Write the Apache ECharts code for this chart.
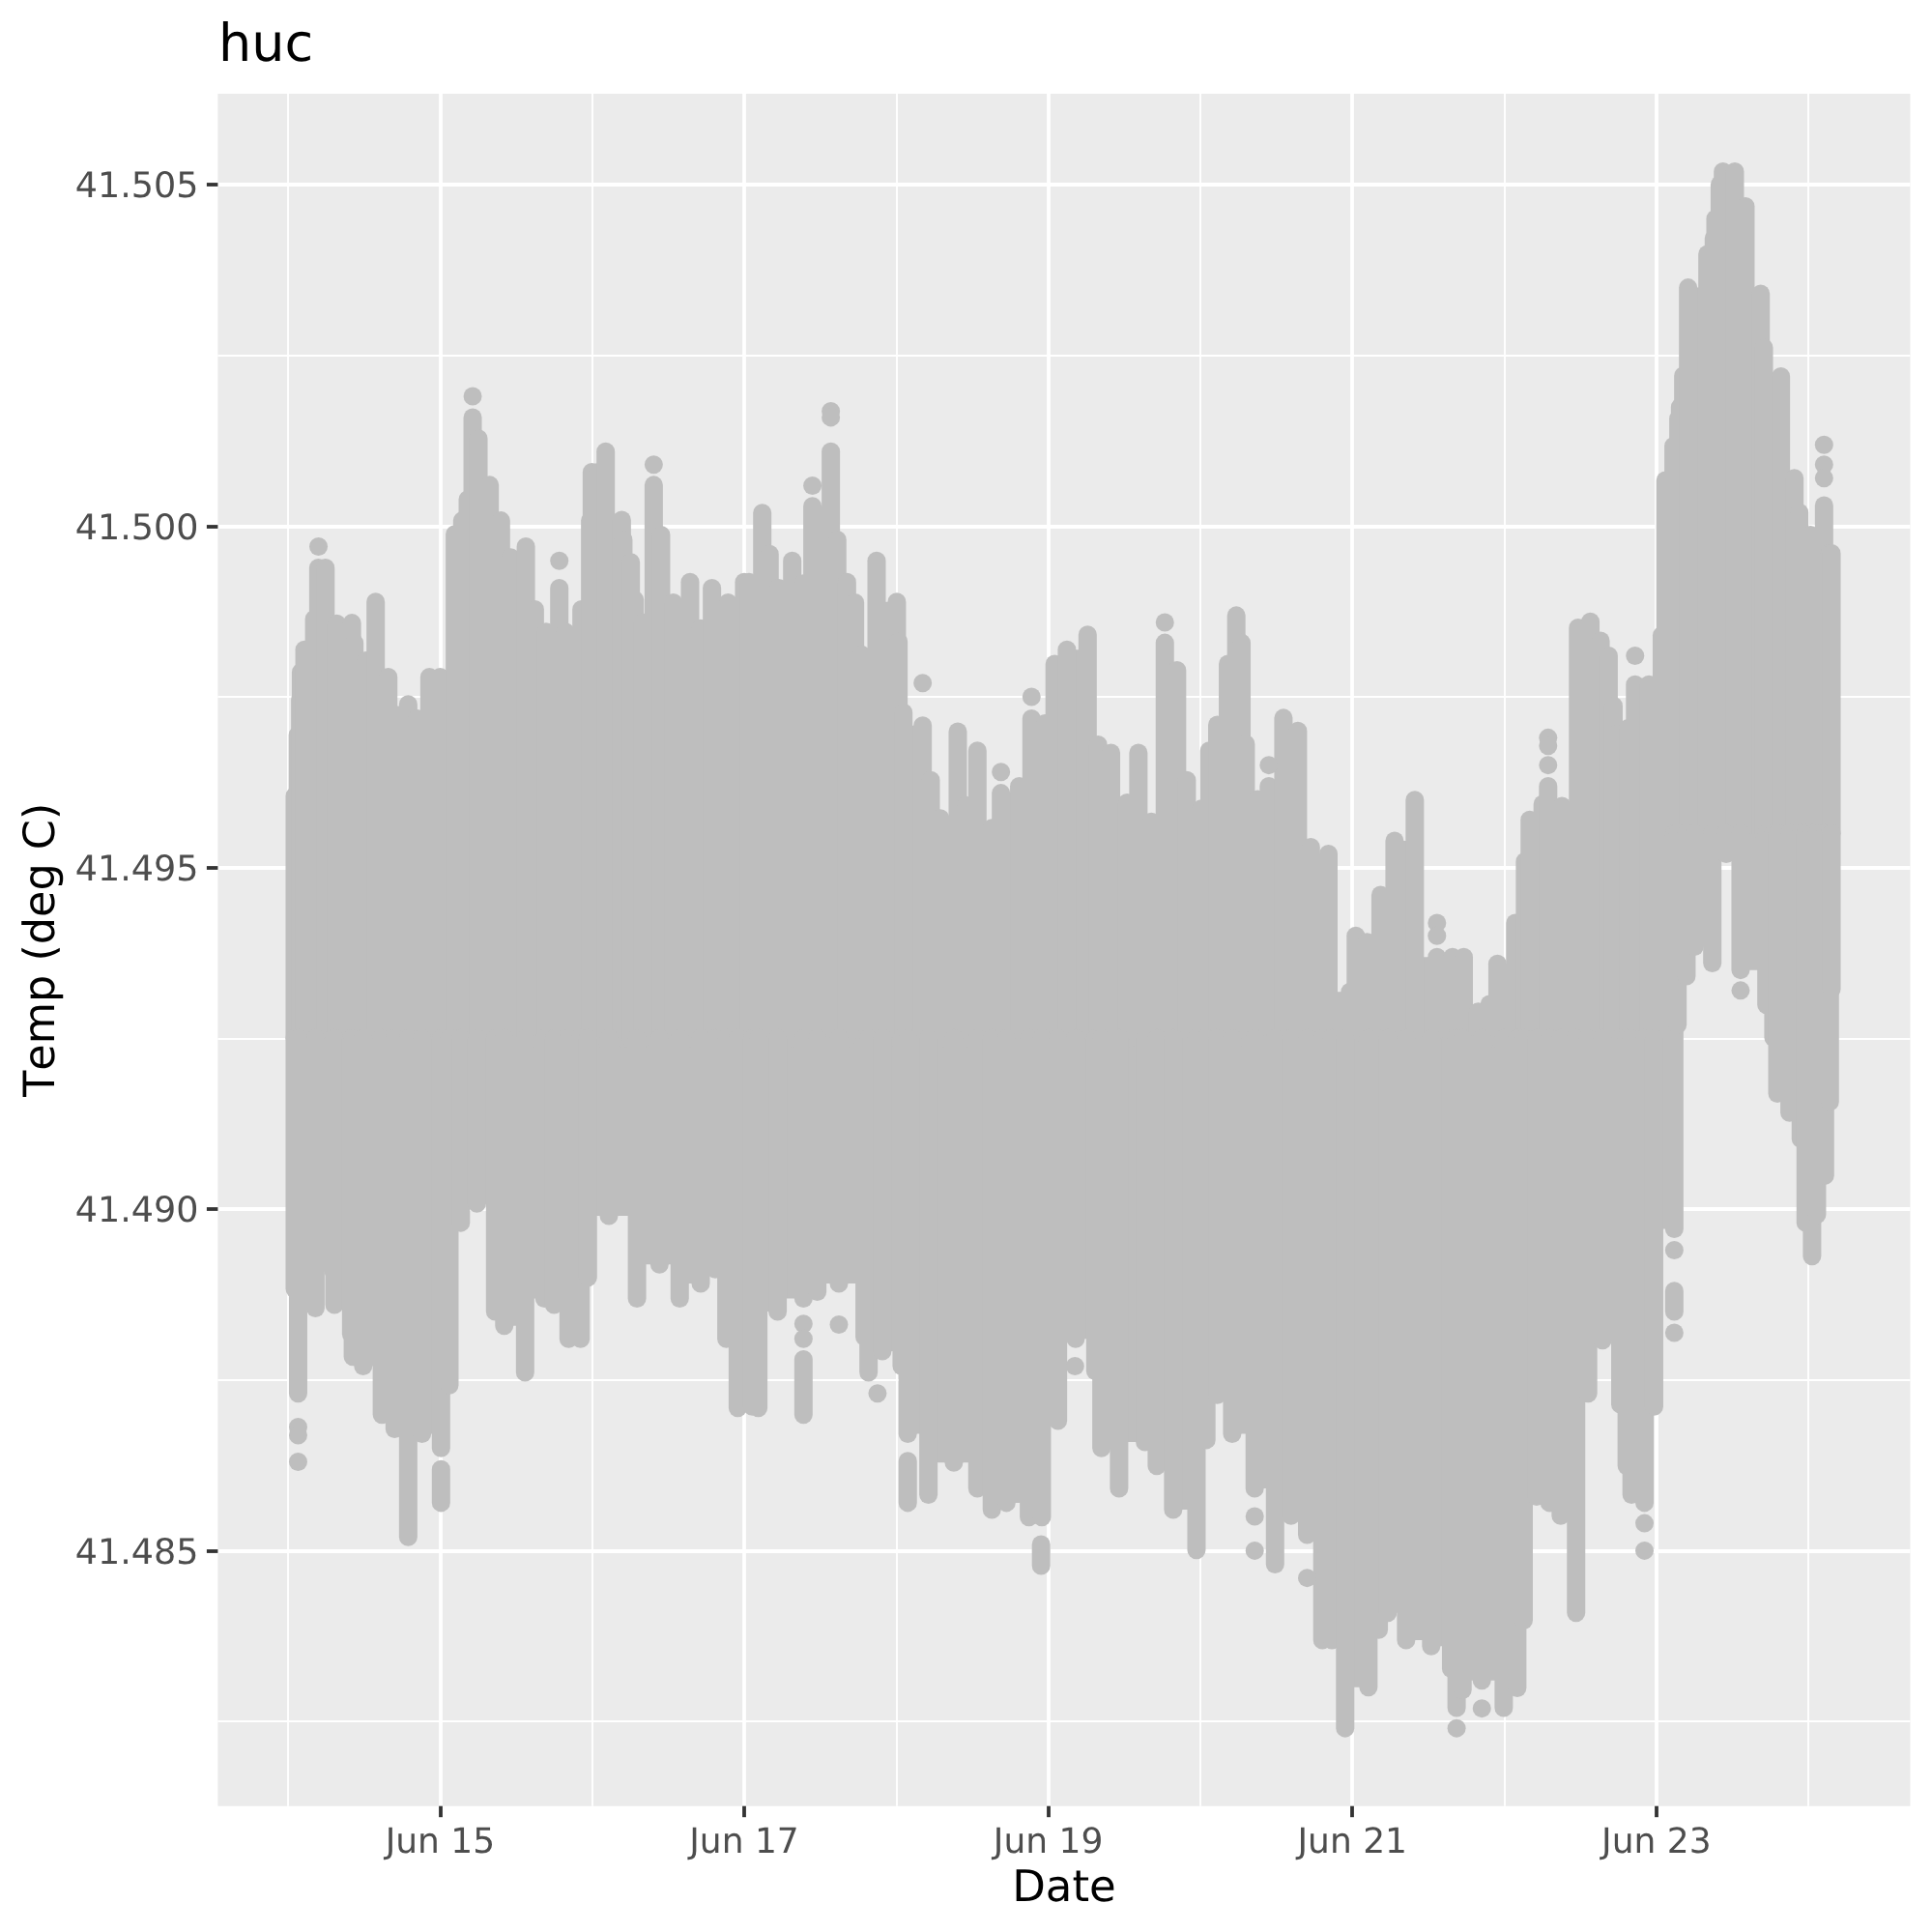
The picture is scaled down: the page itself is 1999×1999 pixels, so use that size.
<!DOCTYPE html>
<html>
<head>
<meta charset="utf-8">
<style>html,body{margin:0;padding:0;background:#fff}#c{width:1999px;height:1999px}</style>
<script src="https://cdn.jsdelivr.net/npm/echarts@6/dist/echarts.min.js"></script>
</head>
<body>
<div id="c"></div>
<script>
// Axis ticks (x is the day of June)
const majorDays = [15, 17, 19, 21, 23];
const minorDays = [14, 16, 18, 20, 22, 24];
const majorTemps = [41.485, 41.49, 41.495, 41.5, 41.505];
const minorTemps = [41.4825, 41.4875, 41.4925, 41.4975, 41.5025];

// Upper edge of the point cloud
const topDays = [14.044,14.064,14.08,14.085,14.108,14.172,14.199,14.246,14.32,14.42,14.436,14.511,14.576,14.659,14.722,14.79,14.85,14.93,15.0,15.097,15.146,15.182,15.214,15.252,15.326,15.4,15.464,15.564,15.623,15.697,15.784,15.824,15.93,15.987,15.998,16.04,16.089,16.195,16.205,16.254,16.28,16.333,16.405,16.453,16.534,16.644,16.714,16.788,16.894,17.0,17.032,17.119,17.167,17.227,17.316,17.39,17.449,17.57,17.612,17.676,17.729,17.771,17.871,18.004,18.015,18.047,18.174,18.227,18.29,18.405,18.46,18.534,18.63,18.689,18.809,18.89,18.979,19.042,19.123,19.259,19.328,19.413,19.519,19.593,19.678,19.767,19.847,19.911,20.006,20.059,20.112,20.182,20.237,20.271,20.299,20.377,20.451,20.547,20.642,20.727,20.843,20.985,21.023,21.097,21.186,21.278,21.411,21.557,21.659,21.733,21.828,21.903,21.955,22.072,22.136,22.167,22.252,22.288,22.379,22.485,22.566,22.633,22.686,22.718,22.739,22.814,22.86,22.951,23.036,23.06,23.113,23.145,23.156,23.177,23.209,23.336,23.378,23.389,23.417,23.438,23.516,23.586,23.686,23.707,23.819,23.908,23.94,24.014,24.103,24.14,24.152];
const topTemps = [41.49605,41.49694,41.49746,41.49786,41.49819,41.49864,41.49939,41.49939,41.49857,41.49858,41.49829,41.49803,41.49889,41.49779,41.49723,41.49739,41.49718,41.49779,41.49779,41.49988,41.50008,41.50039,41.50159,41.50128,41.5006,41.50008,41.49954,41.4997,41.49878,41.49845,41.49909,41.49845,41.49878,41.50008,41.50079,41.50079,41.50109,41.50009,41.4998,41.49947,41.49892,41.49859,41.5006,41.49987,41.49888,41.49918,41.4985,41.49909,41.49888,41.49918,41.49918,41.50019,41.49959,41.49909,41.49949,41.49916,41.50029,41.50109,41.4998,41.49918,41.49888,41.49812,41.49949,41.49889,41.49831,41.49727,41.49708,41.49628,41.49572,41.49699,41.49591,41.49671,41.49558,41.49609,41.49619,41.49718,41.49711,41.49798,41.49819,41.49841,41.4968,41.49668,41.49595,41.49668,41.49567,41.49829,41.49789,41.49628,41.49586,41.49671,41.49709,41.49798,41.49869,41.49829,41.49681,41.496,41.49619,41.49719,41.497,41.4953,41.4952,41.49318,41.494,41.49391,41.4946,41.49539,41.49599,41.49369,41.49369,41.49369,41.49289,41.493,41.49359,41.49419,41.49509,41.4957,41.49593,41.49619,41.4959,41.49851,41.4986,41.49832,41.4981,41.49737,41.49695,41.49704,41.49768,41.49768,41.4984,41.50067,41.50117,41.50157,41.50174,41.5022,41.50349,41.50398,41.50421,41.5045,41.505,41.50519,41.50519,41.50468,41.5034,41.50261,41.50219,41.5007,41.5002,41.49987,41.5003,41.4996,41.4996];

// Lower edge of the point cloud
const lowDays = [14.044,14.066,14.18,14.299,14.305,14.415,14.426,14.494,14.617,14.701,14.79,14.881,15.006,15.061,15.136,15.242,15.362,15.422,15.559,15.686,15.75,15.845,15.924,15.972,16.11,16.295,16.443,16.576,16.714,16.81,16.883,16.958,17.053,17.093,17.22,17.39,17.481,17.623,17.792,17.818,17.909,18.036,18.076,18.212,18.379,18.534,18.629,18.725,18.873,18.958,19.064,19.18,19.31,19.35,19.466,19.636,19.714,19.822,19.975,20.04,20.112,20.21,20.358,20.492,20.597,20.703,20.803,20.866,20.953,21.106,21.174,21.233,21.354,21.519,21.65,21.686,21.725,21.852,21.996,22.085,22.127,22.212,22.297,22.371,22.472,22.551,22.646,22.763,22.805,22.837,22.922,22.985,23.118,23.139,23.198,23.251,23.368,23.46,23.554,23.724,23.77,23.796,23.876,23.95,23.982,24.024,24.056,24.109,24.141,24.152];
const lowTemps = [41.48883,41.4873,41.48855,41.48909,41.4886,41.48817,41.48784,41.4877,41.48699,41.48678,41.4852,41.48671,41.4865,41.48742,41.4898,41.49008,41.4885,41.48829,41.48761,41.48869,41.4886,41.4881,41.4881,41.489,41.4899,41.48869,41.48919,41.48869,41.48891,41.48912,41.4881,41.48709,41.48711,41.48709,41.4885,41.48869,41.48879,41.48891,41.48813,41.48761,41.48792,41.4877,41.48671,41.48582,41.48629,41.48591,41.4856,41.4857,41.48549,41.48549,41.4869,41.4881,41.48763,41.4865,41.48591,41.48659,41.48624,41.4856,41.48501,41.48662,41.48728,41.48671,41.48591,41.4848,41.48551,41.48523,41.48369,41.48369,41.4824,41.483,41.48384,41.48409,41.48369,41.4836,41.48327,41.4827,41.48296,41.4831,41.4827,41.48299,41.48398,41.48579,41.4857,41.48551,41.48409,41.4873,41.48808,41.48714,41.48624,41.48582,41.4857,41.48711,41.48971,41.4927,41.49341,41.49384,41.4936,41.4952,41.4935,41.49299,41.49251,41.49169,41.49141,41.49103,41.4898,41.48931,41.48992,41.49049,41.49157,41.49322];

// Single points standing clear of the cloud
const dotDays = [14.2,15.784,15.214,16.405,17.449,17.57,17.57,18.174,18.689,18.89,19.767,20.451,21.557,21.557,22.288,22.288,22.288,22.86,24.103,24.103,24.103,14.066,14.066,14.066,17.623,17.39,17.39,17.877,19.176,20.358,20.358,20.703,21.686,21.852,22.922,22.922,23.118,23.118,23.554];
const dotTemps = [41.4997,41.49949,41.5019,41.5009,41.50059,41.50168,41.50159,41.4977,41.4964,41.4975,41.49859,41.4965,41.49419,41.494,41.4969,41.49678,41.4965,41.4981,41.50119,41.5009,41.5007,41.48681,41.48669,41.4863,41.48831,41.48832,41.4881,41.4873,41.4877,41.4855,41.485,41.4846,41.4824,41.48269,41.4854,41.485,41.4894,41.48819,41.4932];

// Short runs of points separated from the cloud
const runDays = [15.006,17.39,18.076,18.953,23.118];
const runHighs = [41.48619,41.4878,41.48631,41.48509,41.4888];
const runLows = [41.4857,41.48699,41.4857,41.48478,41.4885];

// Temperature inside the cloud where the upper and lower edges meet
const coreBreakDay = 23.05;
const coreBefore = 41.4925;
const coreAfter = 41.4955;

const GREY = '#BEBEBE';
const DOT = 19;
const coreAt = d => d < coreBreakDay ? coreBefore : coreAfter;

const stems = [];
topDays.forEach((d, i) => { if (topTemps[i] > coreAt(d)) stems.push([d, topTemps[i], coreAt(d)]); });
lowDays.forEach((d, i) => { if (lowTemps[i] < coreAt(d)) stems.push([d, coreAt(d), lowTemps[i]]); });
runDays.forEach((d, i) => stems.push([d, runHighs[i], runLows[i]]));

function renderStem(params, api) {
  const a = api.coord([api.value(0), api.value(1)]);
  const b = api.coord([api.value(0), api.value(2)]);
  return {
    type: 'line',
    shape: { x1: a[0], y1: a[1], x2: b[0], y2: b[1] },
    style: { stroke: GREY, lineWidth: DOT, lineCap: 'round', fill: null }
  };
}

function renderBody(params, api) {
  const pts = [];
  for (let i = 0; i < topDays.length - 1; i++) {
    const v = Math.min(topTemps[i], topTemps[i + 1]);
    pts.push(api.coord([topDays[i], v]), api.coord([topDays[i + 1], v]));
  }
  for (let i = lowDays.length - 1; i > 0; i--) {
    const v = Math.max(lowTemps[i], lowTemps[i - 1]);
    pts.push(api.coord([lowDays[i], v]), api.coord([lowDays[i - 1], v]));
  }
  return { type: 'polygon', shape: { points: pts }, style: { fill: GREY } };
}

// Text is drawn without pair kerning, with exact glyph advances
const getCtx = HTMLCanvasElement.prototype.getContext;
HTMLCanvasElement.prototype.getContext = function (kind, opts) {
  const ctx = getCtx.call(this, kind, opts);
  if (kind === '2d' && ctx) { ctx.fontKerning = 'none'; ctx.textRendering = 'geometricPrecision'; }
  return ctx;
};

const FONT = '"DejaVu Sans"';
const xMin = 13.538, xMax = 24.67, yMin = 41.48126, yMax = 41.50633;
const chart = echarts.init(document.getElementById('c'), null, { renderer: 'canvas' });
chart.setOption({
  animation: false,
  backgroundColor: '#FFFFFF',
  title: {
    text: 'huc', left: 221, top: 17,
    textStyle: { fontFamily: FONT, fontSize: 54, fontWeight: 'normal', color: '#000000' }
  },
  grid: {
    left: 225.4, top: 96.9, right: 22.5, bottom: 130.3,
    show: true, backgroundColor: '#EBEBEB', borderWidth: 0,
    containLabel: false, outerBoundsMode: 'none'
  },
  xAxis: [
    {
      type: 'value', min: xMin, max: xMax,
      name: 'Date', nameLocation: 'middle', nameGap: 64,
      nameTextStyle: { fontFamily: FONT, fontSize: 45, color: '#000000' },
      axisLine: { show: false },
      axisTick: { show: true, length: 11.5, lineStyle: { color: '#333333', width: 3.8 }, customValues: majorDays },
      axisLabel: {
        show: true, margin: 21, fontFamily: FONT, fontSize: 36, color: '#4D4D4D',
        customValues: majorDays, formatter: v => 'Jun ' + v
      },
      splitLine: { show: true, lineStyle: { color: '#FFFFFF', width: 3.8 } }
    },
    {
      type: 'value', min: xMin, max: xMax,
      axisLine: { show: false },
      axisTick: { show: false, customValues: minorDays },
      axisLabel: { show: false, customValues: minorDays },
      splitLine: { show: true, lineStyle: { color: '#FFFFFF', width: 1.9 } }
    }
  ],
  yAxis: [
    {
      type: 'value', min: yMin, max: yMax,
      name: 'Temp (deg C)', nameLocation: 'middle', nameGap: 159, nameRotate: 90,
      nameTextStyle: { fontFamily: FONT, fontSize: 44.5, color: '#000000' },
      axisLine: { show: false },
      axisTick: { show: true, length: 11.5, lineStyle: { color: '#333333', width: 3.8 }, customValues: majorTemps },
      axisLabel: {
        show: true, margin: 20, color: '#4D4D4D',
        customValues: majorTemps, formatter: v => '{t|' + v.toFixed(3) + '}',
        rich: { t: { fontFamily: FONT, fontSize: 36.5, color: '#4D4D4D', padding: [8, 0, 0, 0] } }
      },
      splitLine: { show: true, lineStyle: { color: '#FFFFFF', width: 3.8 } }
    },
    {
      type: 'value', min: yMin, max: yMax,
      axisLine: { show: false },
      axisTick: { show: false, customValues: minorTemps },
      axisLabel: { show: false, customValues: minorTemps },
      splitLine: { show: true, lineStyle: { color: '#FFFFFF', width: 1.9 } }
    }
  ],
  series: [
    {
      type: 'custom', coordinateSystem: 'cartesian2d', silent: true,
      renderItem: renderBody, data: [[topDays[0], topTemps[0]]], encode: { x: 0, y: 1 }
    },
    {
      type: 'custom', coordinateSystem: 'cartesian2d', silent: true,
      renderItem: renderStem, data: stems, encode: { x: 0, y: [1, 2] }
    },
    {
      type: 'scatter', silent: true, symbol: 'circle', symbolSize: DOT,
      itemStyle: { color: GREY, opacity: 1 },
      data: dotDays.map((d, i) => [d, dotTemps[i]])
    }
  ]
});
</script>
</body>
</html>
